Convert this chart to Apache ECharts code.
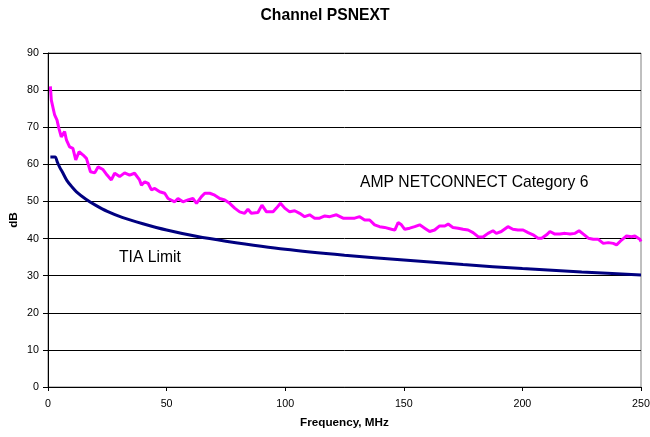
<!DOCTYPE html>
<html>
<head>
<meta charset="utf-8">
<script src="https://cdn.jsdelivr.net/npm/echarts@6/dist/echarts.min.js"></script>
<style>
html,body{margin:0;padding:0;background:#fff;}
#chart{width:650px;height:437px;}
</style>
</head>
<body>
<div id="chart"></div>
<script>
// Frequency (MHz) of each measured AMP point
const ampFreq = [1,1.4,2.8,3.8,4.6,5.6,7,7.8,9.1,10.5,11.7,13.1,14.8,16.2,17.9,19.7,21.1,23.2,24.9,26.7,28.1,30.2,32.3,34.4,36.5,38.6,39.4,40.8,42.2,43.6,45,47.1,49.2,50.6,53.4,54.8,56.9,59,61.1,62.6,64.7,66.1,68.2,70.3,72.4,74.5,76.6,78.7,80.8,82.9,84.3,85.7,88.5,90.2,92.1,94.9,96.3,98,99.8,101.9,104,106.1,108.2,110.3,112.4,114.5,116.7,118.8,121.6,124.4,127.2,129.3,131.4,133.5,135.6,137.7,139.8,141.9,144.8,146.2,147.6,149,150.4,152.5,154.6,156.7,158.8,160.9,163,165.1,167.3,168.7,170.7,172.9,175,177.1,179.2,181.3,183.4,185.5,187.6,189,191.1,193.9,196,198.1,200.3,202.4,204.5,206.6,208.1,210.2,211.6,213.7,215.8,218,220.1,222.2,223.9,225.7,227.8,229.9,232,234.1,236.2,238.3,239.7,241.8,243.9,246,247.4,249.5,250];
// AMP NETCONNECT Category 6 PSNEXT (dB)
const ampDb = [81,77.3,73.3,71.9,69.7,67.4,68.8,66.5,64.7,64.3,61.2,63.4,62.5,61.6,58,57.7,59.3,58.6,57.1,55.8,57.6,56.7,57.7,57.1,57.6,55.8,54.4,55.3,54.9,53.1,53.5,52.6,52.2,50.8,49.9,50.8,49.9,50.4,50.8,49.5,51.3,52.2,52.2,51.7,50.8,50.4,49.5,48.2,47.2,46.8,47.9,46.8,47,49,47.2,47.2,48.2,49.5,48.2,47.2,47.5,46.8,45.9,46.4,45.5,45.5,46.1,45.9,46.4,45.5,45.5,45.5,45.9,45,45,43.7,43.2,43,42.5,42.3,44.3,43.7,42.5,42.8,43.2,43.7,42.8,41.9,42.3,43.4,43.4,43.9,43,42.8,42.5,42.3,41.6,40.5,40.4,41.4,42.1,41.4,41.9,43.2,42.5,42.3,42.3,41.6,41,40.1,40.1,41,41.9,41.2,41.2,41.4,41.2,41.4,42.1,41.2,40.1,39.8,39.8,38.7,38.9,38.7,38.3,39.6,40.7,40.5,40.7,39.8,39.2];
// TIA limit curve
const tiaFreq = [1,2,3,4,5,6,8,10,12,16,20,25,31.25,40,50,62.5,75,100,125,150,175,200,225,250];
const tiaDb = [62,62,62,60.5,59.1,58,55.6,54,52.6,50.6,49,47.3,45.7,44,42.3,40.6,39.3,37.1,35.5,34.2,33,31.9,31,30.2];

const title = "Channel PSNEXT";
const xName = "Frequency, MHz";
const yName = "dB";
const ampLabel = "AMP NETCONNECT Category 6";
const tiaLabel = "TIA Limit";

const zip = (a, b) => a.map((v, i) => [v, b[i]]);
const font = '"Liberation Sans", Arial, sans-serif';

const chart = echarts.init(document.getElementById('chart'), null, {renderer: 'canvas'});
chart.setOption({
  animation: false,
  backgroundColor: '#fff',
  title: {
    text: title, left: 'center', top: 3,
    textStyle: {fontFamily: font, fontSize: 15.7, fontWeight: 'bold', color: '#000'}
  },
  grid: {left: 48, right: 9, top: 53, bottom: 50, show: true, borderColor: '#808080', borderWidth: 1,
         containLabel: false, outerBoundsMode: 'none'},
  xAxis: {
    type: 'value', min: 0, max: 250, interval: 50,
    name: xName, nameLocation: 'middle', nameGap: 30,
    nameTextStyle: {fontFamily: font, fontSize: 11.7, fontWeight: 'bold', color: '#000'},
    axisLine: {lineStyle: {color: '#000', width: 1}},
    axisTick: {show: true, length: 4, lineStyle: {color: '#000'}},
    axisLabel: {fontFamily: font, fontSize: 10.7, color: '#000', margin: 12},
    splitLine: {show: false}
  },
  yAxis: {
    type: 'value', min: 0, max: 90, interval: 10,
    name: yName, nameLocation: 'middle', nameGap: 28, nameRotate: 90, nameMoveOverlap: false,
    nameTextStyle: {fontFamily: font, fontSize: 11.7, fontWeight: 'bold', color: '#000'},
    axisLine: {show: true, lineStyle: {color: '#000', width: 1}},
    axisTick: {show: true, length: 5, lineStyle: {color: '#000'}},
    axisLabel: {fontFamily: font, fontSize: 10.7, color: '#000', margin: 9},
    splitLine: {show: true, lineStyle: {color: '#000', width: 1}}
  },
  series: [
    {
      name: tiaLabel, type: 'line', data: zip(tiaFreq, tiaDb), smooth: 0.3,
      showSymbol: false, lineStyle: {color: '#000080', width: 3}, z: 3
    },
    {
      name: ampLabel, type: 'line', data: zip(ampFreq, ampDb),
      showSymbol: false, lineStyle: {color: '#FF00FF', width: 3}, z: 4
    }
  ],
  graphic: [
    {type: 'text', x: 360, y: 182.5, style: {text: ampLabel, font: '15.7px ' + font, fill: '#000', verticalAlign: 'middle'}},
    {type: 'text', x: 119, y: 257.5, style: {text: tiaLabel, font: '15.7px ' + font, fill: '#000', verticalAlign: 'middle'}}
  ]
});
</script>
</body>
</html>
